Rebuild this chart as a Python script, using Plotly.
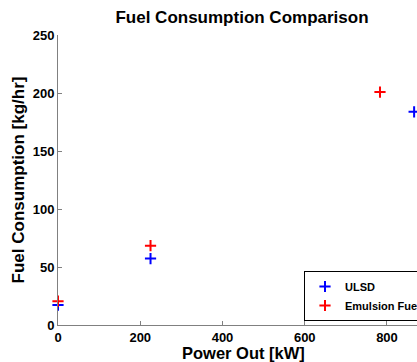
import plotly.graph_objects as go

ulsd_power = [0, 225, 866]
ulsd_fuel = [17.2, 57.3, 183.8]
emul_power = [0, 225, 783]
emul_fuel = [20.5, 68.4, 200.8]

x_ticks = [0, 200, 400, 600, 800]
y_ticks = [0, 50, 100, 150, 200, 250]

W, H = 417, 362
L, R, T, B = 58, 0, 35, 37
PW, PH = W - L - R, H - T - B

FONT = "Liberation Sans"

fig = go.Figure()
fig.add_trace(go.Scatter(x=ulsd_power, y=ulsd_fuel, mode="markers", name="ULSD",
                         cliponaxis=False,
                         marker=dict(symbol="cross-thin", size=8, color="#0000ff",
                                     line=dict(color="#0000ff", width=2))))
fig.add_trace(go.Scatter(x=emul_power, y=emul_fuel, mode="markers", name="Emulsion Fuel",
                         cliponaxis=False,
                         marker=dict(symbol="cross-thin", size=8, color="#ff0000",
                                     line=dict(color="#ff0000", width=2))))

axis_common = dict(showgrid=False, zeroline=False, showline=True, linecolor="#808080",
                   linewidth=1, ticks="inside", ticklen=4, tickcolor="#808080",
                   tickfont=dict(family=FONT, size=13, color="black", weight="bold"))

fig.update_xaxes(range=[0, 873], tickvals=x_ticks, ticktext=[str(v) for v in x_ticks],
                 **axis_common)
fig.update_yaxes(range=[0, 250], tickvals=y_ticks, ticktext=[str(v) for v in y_ticks],
                 title=dict(text="Fuel Consumption [kg/hr]", standoff=3,
                            font=dict(family=FONT, size=17, color="black", weight="bold")),
                 **axis_common)

fig.add_annotation(text="<b>Power Out [kW]</b>", xref="paper", yref="paper",
                   x=(243 - L) / PW, y=-(352.5 - (H - B)) / PH, xanchor="center", yanchor="middle",
                   showarrow=False, font=dict(family=FONT, size=16.5, color="black"))

fig.update_layout(
    width=W, height=H,
    margin=dict(l=L, r=R, t=T, b=B, autoexpand=False),
    paper_bgcolor="white", plot_bgcolor="white",
    title=dict(text="<b>Fuel Consumption Comparison</b>", x=(242 - L) / PW, xref="paper",
               xanchor="center", y=1 - 17 / H, yanchor="middle",
               font=dict(family=FONT, size=17, color="black")),
    legend=dict(x=(304 - L) / PW, y=(325 - 321) / PH, xanchor="left", yanchor="bottom",
                bordercolor="black", borderwidth=1, bgcolor="white",
                font=dict(family=FONT, size=11, color="black", weight="bold"),
                tracegroupgap=0, itemwidth=30),
    showlegend=True,
)

fig.write_html("out.html")
